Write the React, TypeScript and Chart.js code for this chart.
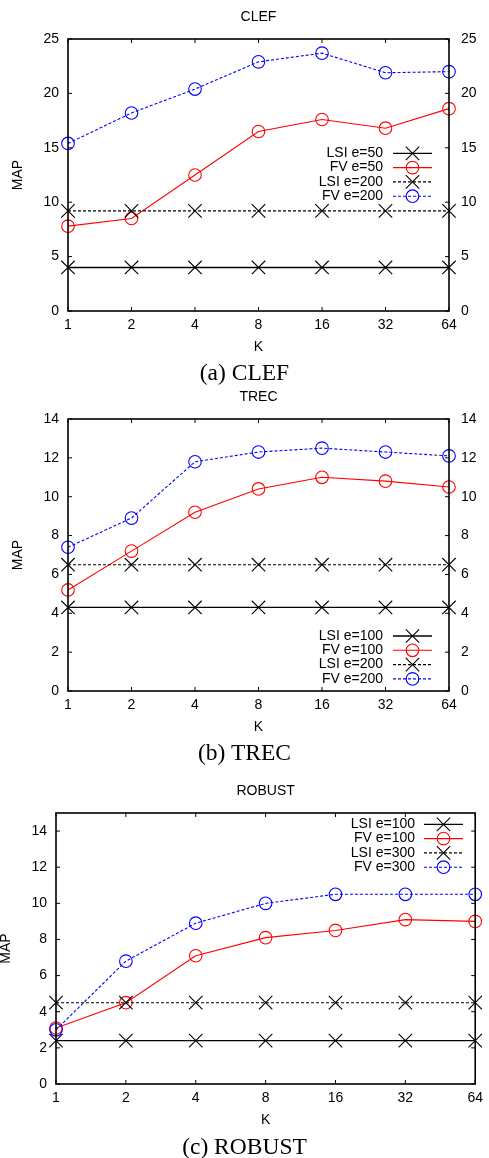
import React, { useEffect, useRef } from "react";
import { Chart, registerables } from "chart.js";

Chart.register(...registerables);

// ---------- DATA ----------
const K_LABELS = ["1", "2", "4", "8", "16", "32", "64"];

const CLEF_LSI_50 = [4.0, 4.0, 4.0, 4.0, 4.0, 4.0, 4.0];
const CLEF_FV_50 = [7.8, 8.5, 12.5, 16.5, 17.6, 16.8, 18.6];
const CLEF_LSI_200 = [9.2, 9.2, 9.2, 9.2, 9.2, 9.2, 9.2];
const CLEF_FV_200 = [15.4, 18.2, 20.4, 22.9, 23.7, 21.9, 22.0];
const CLEF_Y_TICKS = [0, 5, 10, 15, 20, 25];

const TREC_LSI_100 = [4.3, 4.3, 4.3, 4.3, 4.3, 4.3, 4.3];
const TREC_FV_100 = [5.2, 7.2, 9.2, 10.4, 11.0, 10.8, 10.5];
const TREC_LSI_200 = [6.5, 6.5, 6.5, 6.5, 6.5, 6.5, 6.5];
const TREC_FV_200 = [7.4, 8.9, 11.8, 12.3, 12.5, 12.3, 12.1];
const TREC_Y_TICKS = [0, 2, 4, 6, 8, 10, 12, 14];

const ROBUST_LSI_100 = [2.4, 2.4, 2.4, 2.4, 2.4, 2.4, 2.4];
const ROBUST_FV_100 = [3.1, 4.5, 7.1, 8.1, 8.5, 9.1, 9.0];
const ROBUST_LSI_300 = [4.5, 4.5, 4.5, 4.5, 4.5, 4.5, 4.5];
const ROBUST_FV_300 = [3.0, 6.8, 8.9, 10.0, 10.5, 10.5, 10.5];
const ROBUST_Y_TICKS = [0, 2, 4, 6, 8, 10, 12, 14];

// ---------- STYLE ----------
const SANS = '"Liberation Sans", Arial, Helvetica, sans-serif';
const SERIF = '"Liberation Serif", "Times New Roman", Times, serif';
const FONT_SIZE = 14;
const W = 489;
const H = 360;

type Kind = "lsiSolid" | "fvSolid" | "lsiDash" | "fvDash";

const KIND_STYLE: Record<Kind, { color: string; dash: number[]; point: "crossRot" | "circle"; radius: number; width: number }> = {
  lsiSolid: { color: "#000000", dash: [], point: "crossRot", radius: 9.5, width: 1.3 },
  fvSolid: { color: "#ff0000", dash: [], point: "circle", radius: 6.3, width: 1.1 },
  lsiDash: { color: "#000000", dash: [3, 2], point: "crossRot", radius: 9.5, width: 1.1 },
  fvDash: { color: "#0000ff", dash: [3, 2], point: "circle", radius: 6.3, width: 1.1 },
};

interface Series {
  label: string;
  data: number[];
  kind: Kind;
}

interface PanelCfg {
  title: string;
  caption: string;
  top: number;
  captionBaseline: number;
  yMax: number;
  yTicks: number[];
  series: Series[];
  left: number;
  right: number;
  bottom: number;
  rightLabels: boolean;
  legend: { textRight: number; x0: number; x1: number; y0: number; step: number };
  mapX: number;
}

const PANELS: PanelCfg[] = [
  {
    title: "CLEF",
    caption: "(a) CLEF",
    top: 0,
    captionBaseline: 381,
    yMax: 25,
    yTicks: CLEF_Y_TICKS,
    series: [
      { label: "LSI e=50", data: CLEF_LSI_50, kind: "lsiSolid" },
      { label: "FV e=50", data: CLEF_FV_50, kind: "fvSolid" },
      { label: "LSI e=200", data: CLEF_LSI_200, kind: "lsiDash" },
      { label: "FV e=200", data: CLEF_FV_200, kind: "fvDash" },
    ],
    left: 68,
    right: 449,
    bottom: 311,
    rightLabels: true,
    legend: { textRight: 383, x0: 393, x1: 432, y0: 153.3, step: 14.3 },
    mapX: 18,
  },
  {
    title: "TREC",
    caption: "(b) TREC",
    top: 380,
    captionBaseline: 761,
    yMax: 14,
    yTicks: TREC_Y_TICKS,
    series: [
      { label: "LSI e=100", data: TREC_LSI_100, kind: "lsiSolid" },
      { label: "FV e=100", data: TREC_FV_100, kind: "fvSolid" },
      { label: "LSI e=200", data: TREC_LSI_200, kind: "lsiDash" },
      { label: "FV e=200", data: TREC_FV_200, kind: "fvDash" },
    ],
    left: 68,
    right: 449,
    bottom: 311,
    rightLabels: true,
    legend: { textRight: 383, x0: 393, x1: 432, y0: 256, step: 14.3 },
    mapX: 18,
  },
  {
    title: "ROBUST",
    caption: "(c) ROBUST",
    top: 774,
    captionBaseline: 1155,
    yMax: 15,
    yTicks: ROBUST_Y_TICKS,
    series: [
      { label: "LSI e=100", data: ROBUST_LSI_100, kind: "lsiSolid" },
      { label: "FV e=100", data: ROBUST_FV_100, kind: "fvSolid" },
      { label: "LSI e=300", data: ROBUST_LSI_300, kind: "lsiDash" },
      { label: "FV e=300", data: ROBUST_FV_300, kind: "fvDash" },
    ],
    left: 56,
    right: 480,
    bottom: 310,
    rightLabels: false,
    legend: { textRight: 415, x0: 424, x1: 463, y0: 50.3, step: 14.3 },
    mapX: 6,
  },
];

function drawMarker(ctx: CanvasRenderingContext2D, kind: Kind, x: number, y: number) {
  const st = KIND_STYLE[kind];
  ctx.save();
  ctx.setLineDash([]);
  ctx.strokeStyle = st.color;
  ctx.lineWidth = 1.1;
  ctx.beginPath();
  if (st.point === "circle") {
    ctx.arc(x, y, st.radius, 0, Math.PI * 2);
  } else {
    const o = st.radius * Math.SQRT1_2;
    ctx.moveTo(x - o, y - o);
    ctx.lineTo(x + o, y + o);
    ctx.moveTo(x + o, y - o);
    ctx.lineTo(x - o, y + o);
  }
  ctx.stroke();
  ctx.restore();
}

function makeFramePlugin(cfg: PanelCfg) {
  return {
    id: "gnuplotFrame",
    afterDraw(chart: any) {
      const ctx: CanvasRenderingContext2D = chart.ctx;
      const { left, right, top, bottom } = chart.chartArea;
      const xs = chart.scales.x;
      const ys = chart.scales.y;
      ctx.save();
      // inner ticks
      ctx.strokeStyle = "#000";
      ctx.lineWidth = 1;
      ctx.setLineDash([]);
      ctx.beginPath();
      for (let i = 0; i < K_LABELS.length; i++) {
        const px = xs.getPixelForValue(i);
        ctx.moveTo(px, bottom);
        ctx.lineTo(px, bottom - 4);
        ctx.moveTo(px, top);
        ctx.lineTo(px, top + 4);
      }
      for (const v of cfg.yTicks) {
        const py = ys.getPixelForValue(v);
        ctx.moveTo(left, py);
        ctx.lineTo(left + 4, py);
        ctx.moveTo(right, py);
        ctx.lineTo(right - 4, py);
      }
      ctx.stroke();
      // frame
      ctx.lineWidth = 1.6;
      ctx.strokeRect(left, top, right - left, bottom - top);

      // titles
      ctx.fillStyle = "#000";
      ctx.font = `${FONT_SIZE}px ${SANS}`;
      ctx.textAlign = "center";
      ctx.textBaseline = "middle";
      const cx = (left + right) / 2;
      ctx.fillText(cfg.title, cx, 17);
      ctx.fillText("K", cx, bottom + 36);
      ctx.save();
      ctx.translate(cfg.mapX, (top + bottom) / 2);
      ctx.rotate(-Math.PI / 2);
      ctx.fillText("MAP", 0, 0);
      ctx.restore();

      // legend
      const lg = cfg.legend;
      cfg.series.forEach((s, i) => {
        const y = lg.y0 + i * lg.step;
        const st = KIND_STYLE[s.kind];
        ctx.fillStyle = "#000";
        ctx.textAlign = "right";
        ctx.textBaseline = "middle";
        ctx.fillText(s.label, lg.textRight, y);
        ctx.strokeStyle = st.color;
        ctx.lineWidth = st.width;
        ctx.setLineDash(st.dash);
        ctx.beginPath();
        ctx.moveTo(lg.x0, y);
        ctx.lineTo(lg.x1, y);
        ctx.stroke();
        ctx.setLineDash([]);
        drawMarker(ctx, s.kind, (lg.x0 + lg.x1) / 2, y);
      });
      ctx.restore();
    },
  };
}

function Panel({ cfg }: { cfg: PanelCfg }) {
  const ref = useRef<HTMLCanvasElement | null>(null);

  useEffect(() => {
    if (!ref.current) return;
    const tickFont = { family: SANS, size: FONT_SIZE };
    const setTicks = (scale: any) => {
      scale.ticks = cfg.yTicks.map((v) => ({ value: v }));
    };
    const noGrid = { display: false, drawTicks: false, tickLength: 0 };
    const scales: any = {
      x: {
        type: "category",
        offset: false,
        grid: noGrid,
        border: { display: false },
        ticks: { autoSkip: false, maxRotation: 0, minRotation: 0, font: tickFont, color: "#000", padding: 6 },
        afterFit: (s: any) => {
          s.height = H - cfg.bottom;
        },
      },
      y: {
        type: "linear",
        position: "left",
        min: 0,
        max: cfg.yMax,
        grid: noGrid,
        border: { display: false },
        ticks: { font: tickFont, color: "#000", padding: 9 },
        afterBuildTicks: setTicks,
        afterFit: (s: any) => {
          s.width = cfg.left;
        },
      },
    };
    if (cfg.rightLabels) {
      scales.y2 = {
        type: "linear",
        position: "right",
        min: 0,
        max: cfg.yMax,
        grid: noGrid,
        border: { display: false },
        ticks: { font: tickFont, color: "#000", padding: 12 },
        afterBuildTicks: setTicks,
        afterFit: (s: any) => {
          s.width = W - cfg.right;
        },
      };
    }

    const chart = new Chart(ref.current, {
      type: "line",
      data: {
        labels: K_LABELS,
        datasets: cfg.series.map((s, i) => {
          const st = KIND_STYLE[s.kind];
          return {
            label: s.label,
            data: s.data,
            borderColor: st.color,
            borderWidth: st.width,
            borderDash: st.dash,
            backgroundColor: "rgba(0,0,0,0)",
            pointStyle: st.point,
            pointRadius: st.radius,
            pointBorderWidth: 1.1,
            pointBorderColor: st.color,
            pointBackgroundColor: "rgba(0,0,0,0)",
            fill: false,
            tension: 0,
            clip: false as any,
            order: cfg.series.length - i,
            yAxisID: "y",
          };
        }),
      },
      options: {
        animation: false,
        responsive: false,
        maintainAspectRatio: false,
        events: [],
        layout: {
          padding: { top: 39, bottom: 0, left: 0, right: cfg.rightLabels ? 0 : W - cfg.right },
        },
        plugins: {
          legend: { display: false },
          title: { display: false },
          tooltip: { enabled: false },
        },
        scales,
      },
      plugins: [makeFramePlugin(cfg)],
    });
    return () => chart.destroy();
  }, [cfg]);

  return (
    <>
      <canvas
        ref={ref}
        width={W}
        height={H}
        style={{ position: "absolute", left: 0, top: cfg.top, width: W, height: H }}
      />
      <div
        style={{
          position: "absolute",
          left: 0,
          width: W,
          top: cfg.captionBaseline - 19.7,
          textAlign: "center",
          fontFamily: SERIF,
          fontSize: "23.5px",
          lineHeight: "23.5px",
          color: "#000",
          whiteSpace: "nowrap",
        }}
      >
        {cfg.caption}
      </div>
    </>
  );
}

export default function App() {
  return (
    <div
      style={{
        position: "absolute",
        left: 0,
        top: 0,
        width: W,
        height: 1158,
        background: "#fff",
        overflow: "hidden",
      }}
    >
      {PANELS.map((p) => (
        <Panel key={p.title} cfg={p} />
      ))}
    </div>
  );
}
